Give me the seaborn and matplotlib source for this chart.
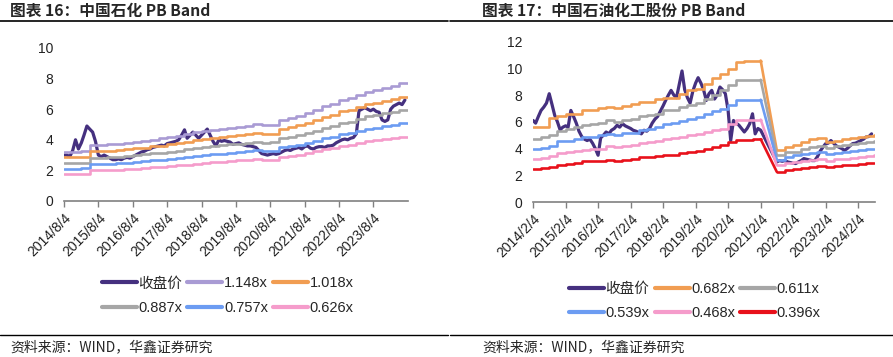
import numpy as np
import pandas as pd
import matplotlib
matplotlib.use("Agg")
import matplotlib.pyplot as plt
import seaborn as sns
from matplotlib.lines import Line2D

# ---------------- left: 中国石化 ----------------
left_price = [3.0, 3.0, 2.9, 3.3, 4.0, 3.4, 3.8, 4.3, 4.9, 4.7, 4.5, 3.9,
              3.0, 2.9, 3.0, 2.9, 2.8, 2.7, 2.7, 2.75, 2.7, 2.8, 2.85, 2.8,
              2.9, 3.0, 3.1, 3.2, 3.25, 3.35, 3.4, 3.5, 3.55, 3.6, 3.65, 3.6,
              3.75, 3.8, 3.85, 3.9, 4.0, 4.3, 4.65, 4.1, 4.3, 4.5, 4.3, 4.1,
              4.3, 4.5, 4.7, 4.3, 3.9, 3.6, 4.0, 3.9, 3.95, 3.9, 3.85, 3.7,
              3.75, 3.8, 3.7, 3.65, 3.6, 3.6, 3.55, 3.5, 3.3, 3.1, 3.05, 3.0,
              3.05, 3.1, 3.05, 3.1, 3.2, 3.3, 3.35, 3.3, 3.4, 3.45, 3.5, 3.4,
              3.55, 3.6, 3.45, 3.4, 3.5, 3.55, 3.55, 3.5, 3.6, 3.6, 3.65, 3.8,
              3.9, 4.0, 4.05, 4.0, 4.1, 4.15, 4.4, 5.9, 6.0, 6.1, 6.0, 5.9,
              6.0, 5.85, 5.8, 5.3, 5.2, 5.3, 6.0, 6.2, 6.3, 6.4, 6.3, 6.6]
left_bps = [2.80, 2.80, 2.82, 3.19, 3.20, 3.23, 3.27, 3.32, 3.38, 3.43,
            3.50, 3.56, 3.63, 3.72, 3.80, 3.90, 4.00, 4.05, 4.10, 4.17,
            4.23, 4.28, 4.36, 4.30, 4.33, 4.62, 4.72, 4.85, 4.99, 5.18,
            5.40, 5.55, 5.75, 5.85, 6.05, 6.23, 6.32, 6.45, 6.55, 6.70]
left_multiples = [1.148, 1.018, 0.887, 0.757, 0.626]
left_labels = ["收盘价", "1.148x", "1.018x", "0.887x", "0.757x", "0.626x"]
left_colors = ["#45307f", "#a99bd4", "#f19d52", "#a6a6a6", "#6c9cf2", "#f59ccb"]
left_ticks = ["2014/8/4", "2015/8/4", "2016/8/4", "2017/8/4", "2018/8/4",
              "2019/8/4", "2020/8/4", "2021/8/4", "2022/8/4", "2023/8/4"]

# ---------------- right: 中国石油化工股份 ----------------
nan = np.nan
right_price = [6.1, 5.9, 6.4, 6.85, 7.1, 7.4, 8.1, 7.3, 6.5, 6.0, 5.4, 5.6,
               5.7, 5.6, 6.85, 6.4, 5.9, 5.3, 4.9, 4.7, 4.6, 4.7, 4.4, 4.0,
               3.5, 4.8, 5.0, 5.24, 5.1, 5.37, 5.5, 5.74, 5.6, 5.86, 5.7, 5.6,
               5.5, 5.37, 5.3, 5.2, 5.1, 5.37, 5.3, 5.5, 5.9, 6.2, 6.4, 6.8,
               7.2, 7.6, 8.0, 8.35, 8.0, 7.8, 8.8, 9.8, 8.4, 7.8, 7.4, 8.3,
               8.9, 9.3, 8.9, 8.4, 7.6, 8.1, 8.35, 7.7, 8.0, 8.6, 8.4, 8.1,
               6.85, 4.6, 6.1, 5.9, 5.75, 5.5, 5.24, 5.5, 5.86, 6.6, 5.1, 5.5,
               5.37, nan, nan, nan, nan, nan, 3.0, 3.1, 3.05, 3.1, 3.0, 2.95,
               2.9, 2.88, 3.0, 3.1, 3.25, 3.2, 3.15, 3.1, 3.1, 3.4, 3.8, 4.1,
               4.37, 4.4, 4.6, 4.4, 4.2, 4.1, 4.0, 3.87, 4.0, 4.2, 4.37, 4.4,
               4.5, 4.6, 4.7, 4.87, 4.9, 5.1]
band_682 = [5.6, 5.6, 6.3, 6.4, 6.55, 6.6, 6.85, 6.9, 7.0, 7.1, 7.0, 7.15,
            7.35, 7.45, 7.5, 7.7, 7.75, 7.8, 8.1, 8.35, 8.45, 8.84, 9.3, 9.6,
            9.96, 10.5, 10.55, 10.58, 10.58, nan, 3.87, 4.1, 4.25, 4.5, 4.75,
            4.8, 4.5, 4.6, 4.7, 4.8, 4.85, 4.95, 5.0]
band_611 = [4.75, 4.85, 5.0, 5.35, 5.45, 5.6, 5.74, 5.8, 5.9, 6.1, 6.0, 6.1,
            6.2, 6.4, 6.5, 6.6, 6.86, 6.9, 7.1, 7.23, 7.4, 7.72, 8.0, 8.35,
            8.72, 9.1, 9.14, 9.14, 9.14, nan, 3.5, 3.73, 3.73, 4.0, 4.12,
            4.2, 4.05, 4.2, 4.3, 4.37, 4.45, 4.5, 4.6]
band_539 = [4.0, 4.05, 4.2, 4.55, 4.6, 4.75, 4.87, 4.9, 5.0, 5.1, 5.05, 5.15,
            5.2, 5.4, 5.49, 5.6, 5.86, 5.9, 6.05, 6.24, 6.35, 6.6, 6.8, 6.98,
            7.23, 7.6, 7.65, 7.65, 7.65, nan, 3.18, 3.4, 3.5, 3.6, 3.67,
            3.75, 3.6, 3.7, 3.75, 3.8, 3.87, 3.95, 4.0]
band_468 = [3.25, 3.3, 3.45, 3.7, 3.75, 3.85, 3.9, 3.95, 4.0, 4.17, 4.1, 4.2,
            4.25, 4.4, 4.5, 4.55, 4.74, 4.8, 4.9, 5.0, 5.1, 5.24, 5.4, 5.49,
            5.86, 6.1, 6.16, 6.16, 6.16, nan, 2.76, 2.9, 3.0, 3.1, 3.13,
            3.2, 3.1, 3.2, 3.25, 3.3, 3.38, 3.45, 3.5]
band_396 = [2.5, 2.55, 2.65, 2.8, 2.85, 2.95, 3.05, 3.08, 3.1, 3.15, 3.1, 3.15,
            3.25, 3.35, 3.38, 3.42, 3.5, 3.55, 3.7, 3.75, 3.85, 4.0, 4.1, 4.25,
            4.5, 4.62, 4.67, 4.7, 4.7, nan, 2.26, 2.4, 2.44, 2.55, 2.63,
            2.7, 2.6, 2.68, 2.75, 2.8, 2.85, 2.9, 2.95]
right_bands = [band_682, band_611, band_539, band_468, band_396]
right_labels = ["收盘价", "0.682x", "0.611x", "0.539x", "0.468x", "0.396x"]
right_colors = ["#45307f", "#f19d52", "#a6a6a6", "#6c9cf2", "#f59ccb", "#e8111b"]
right_ticks = ["2014/2/4", "2015/2/4", "2016/2/4", "2017/2/4", "2018/2/4",
               "2019/2/4", "2020/2/4", "2021/2/4", "2022/2/4", "2023/2/4",
               "2024/2/4"]

sns.set_theme(style="white")
plt.rcParams["font.family"] = ["Liberation Sans", "Noto Sans CJK SC", "DejaVu Sans"]

fig = plt.figure(figsize=(8.93, 3.57), dpi=100)
ax1 = fig.add_axes([0.0717, 0.437, 0.385, 0.4286])
ax2 = fig.add_axes([0.597, 0.434, 0.383, 0.4496])

month = pd.DateOffset(months=1)
quarter = pd.DateOffset(months=3)


def style_axis(ax, ymax, tick_dates, tick_labels, xmin, xmax):
    ax.set_ylim(0, ymax)
    ax.set_yticks(range(0, ymax + 1, 2))
    ax.set_xlim(xmin, xmax)
    ax.set_xticks(tick_dates)
    ax.set_xticklabels(tick_labels, rotation=45, ha="right", va="top",
                       rotation_mode="anchor")
    for s in ["top", "right", "left"]:
        ax.spines[s].set_visible(False)
    ax.spines["bottom"].set_color("#808080")
    ax.spines["bottom"].set_linewidth(1.2)
    ax.tick_params(axis="x", bottom=True, length=4, width=1, color="#808080",
                   labelsize=10, pad=3, colors="#808080", labelcolor="#222222")
    ax.tick_params(axis="y", left=False, labelsize=10, pad=2, labelcolor="#222222")
    ax.set_xlabel("")
    ax.set_ylabel("")
    ax.grid(False)


# left chart
lp_dates = pd.date_range("2014-08-04", periods=len(left_price), freq=month)
lb_dates = pd.date_range("2014-08-04", periods=len(left_bps), freq=quarter)
lb_dates = lb_dates.append(pd.DatetimeIndex(["2024-08-01"]))
bps = np.array(left_bps + [left_bps[-1]])

handles1 = []
sns.lineplot(x=lp_dates, y=left_price, ax=ax1, color=left_colors[0], lw=2.3, zorder=2)
handles1.append(Line2D([], [], color=left_colors[0], lw=3))
for mult, col in zip(left_multiples, left_colors[1:]):
    sns.lineplot(x=lb_dates, y=bps * mult, ax=ax1, color=col, lw=1.9,
                 drawstyle="steps-post", zorder=3)
    handles1.append(Line2D([], [], color=col, lw=3))

style_axis(ax1, 10,
           pd.date_range("2014-08-04", periods=len(left_ticks), freq=pd.DateOffset(years=1)),
           left_ticks, pd.Timestamp("2014-08-04"), pd.Timestamp("2024-08-04"))

# right chart
rp = pd.Series(right_price,
               index=pd.date_range("2014-02-04", periods=len(right_price), freq=month)).dropna()
rb_dates = pd.date_range("2014-02-04", periods=len(band_682), freq=quarter)

handles2 = []
sns.lineplot(x=rp.index, y=rp.values, ax=ax2, color=right_colors[0], lw=2.3, zorder=2)
handles2.append(Line2D([], [], color=right_colors[0], lw=3))
for vals, col in zip(right_bands, right_colors[1:]):
    s = pd.Series(vals, index=rb_dates)
    gap = int(np.where(s.isna())[0][0])
    pre, post = s.iloc[:gap], s.iloc[gap + 1:]
    sns.lineplot(x=pre.index, y=pre.values, ax=ax2, color=col, lw=1.9,
                 drawstyle="steps-post", zorder=3)
    sns.lineplot(x=post.index, y=post.values, ax=ax2, color=col, lw=1.9,
                 drawstyle="steps-post", zorder=3)
    ax2.plot([pre.index[-1], post.index[0]], [pre.iloc[-1], post.iloc[0]],
             color=col, lw=1.9, zorder=3)
    handles2.append(Line2D([], [], color=col, lw=3))

style_axis(ax2, 12,
           pd.date_range("2014-02-04", periods=len(right_ticks), freq=pd.DateOffset(years=1)),
           right_ticks, pd.Timestamp("2014-02-04"), pd.Timestamp("2024-08-13"))

# legends (row-wise order for 3 columns)
order = [0, 3, 1, 4, 2, 5]
leg_kw = dict(loc="center", ncol=3, frameon=False, fontsize=10.5, handlelength=2.4,
              handletextpad=0.1, columnspacing=0.35, labelspacing=0.7)
fig.legend([handles1[i] for i in order], [left_labels[i] for i in order],
           bbox_to_anchor=(0.255, 0.172), **leg_kw)
fig.legend([handles2[i] for i in order], [right_labels[i] for i in order],
           bbox_to_anchor=(0.778, 0.157), **leg_kw)

# titles, rules and source notes
cjk = ["Noto Sans CJK SC", "DejaVu Sans"]
fig.text(10 / 893, 1 - 11 / 357, "图表 16：中国石化 PB Band", fontsize=11.3,
         fontweight="bold", family=cjk, va="center", ha="left")
fig.text(482 / 893, 1 - 11 / 357, "图表 17：中国石油化工股份 PB Band", fontsize=11.3,
         fontweight="bold", family=cjk, va="center", ha="left")
for x0, x1 in [(0, 448), (450, 893)]:
    fig.add_artist(Line2D([x0 / 893, x1 / 893], [1 - 21 / 357] * 2, color="black", lw=1.2))
    fig.add_artist(Line2D([x0 / 893, x1 / 893], [1 - 335 / 357] * 2, color="black", lw=1.0))
fig.text(10 / 893, 1 - 347 / 357, "资料来源：WIND，华鑫证券研究", fontsize=10,
         family=cjk, va="center", ha="left")
fig.text(482 / 893, 1 - 347 / 357, "资料来源：WIND，华鑫证券研究", fontsize=10,
         family=cjk, va="center", ha="left")

fig.savefig("out.png", dpi=100)
